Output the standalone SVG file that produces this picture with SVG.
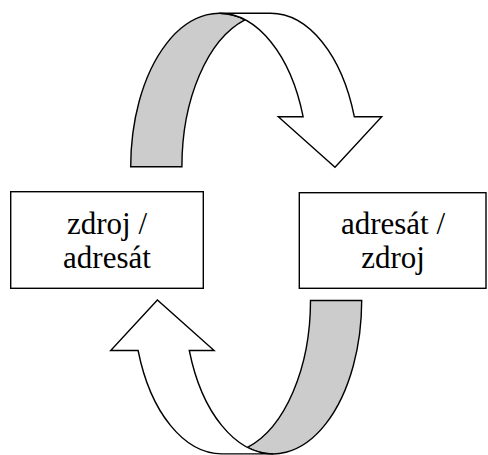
<svg xmlns="http://www.w3.org/2000/svg" width="488" height="455" viewBox="0 0 488 455">
  <style>
    .box { fill: #ffffff; stroke: #000000; stroke-width: 1.4; }
    .lbl { font-family: "Liberation Serif", "Times New Roman", serif; font-size: 31px; fill: #000000; text-anchor: middle; }
    .back { fill: #cccccc; stroke: #000000; stroke-width: 1.4; stroke-linejoin: miter; }
    .front { fill: #ffffff; stroke: #000000; stroke-width: 1.4; stroke-linejoin: miter; }
  </style>
  <defs>
    <!-- curved arrow bending down to the right: grey back band, white front band with head -->
    <g id="curved-arrow">
      <path class="back" d="M130.7,166.7 A88.6,153.4 0 0 1 244.9,19.85 A88.6,153.4 0 0 0 181.9,166.7 Z"/>
      <path class="front" d="M219.3,13.3 L270.5,13.3 A88.6,153.4 0 0 1 354.3,116.7 L381.7,116.7 L335,167.2 L278.3,116.7 L303.1,116.7 A88.6,153.4 0 0 0 219.3,13.3 Z"/>
    </g>
  </defs>

  <g id="connectors">
    <use href="#curved-arrow"/>
    <use href="#curved-arrow" transform="rotate(180 246.2 233.6)"/>
  </g>

  <g id="node-left">
    <rect class="box" x="10.7" y="191.7" width="192.6" height="96.6"/>
    <text class="lbl" x="107" y="234">zdroj /</text>
    <text class="lbl" x="107" y="268">adresát</text>
  </g>

  <g id="node-right">
    <rect class="box" x="299.3" y="192.7" width="186.7" height="95.6"/>
    <text class="lbl" x="393" y="234">adresát /</text>
    <text class="lbl" x="393" y="268">zdroj</text>
  </g>
</svg>
